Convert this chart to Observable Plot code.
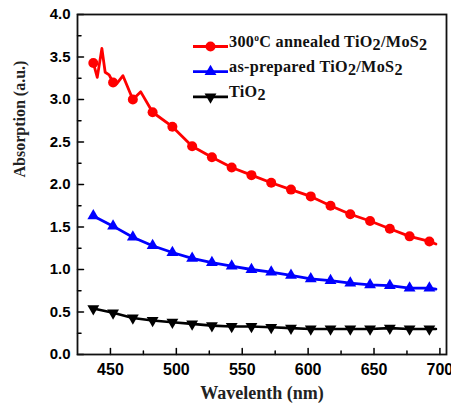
<!DOCTYPE html>
<html>
<head>
<meta charset="utf-8">
<script src="https://cdn.jsdelivr.net/npm/d3@7"></script>
<script src="https://cdn.jsdelivr.net/npm/@observablehq/plot@0.6"></script>
<style>
  html, body { margin: 0; padding: 0; background: #fff; }
</style>
</head>
<body>
<div id="chart"></div>
<script>
// Absorption spectra, wavelength in nm
const wavelength = [437, 452, 467, 482, 497, 512, 527, 542, 557, 572, 587, 602, 617, 632, 647, 662, 677, 692, 697];
const asPrepared = [1.63, 1.51, 1.38, 1.28, 1.20, 1.13, 1.08, 1.04, 1.00, 0.97, 0.93, 0.89, 0.87, 0.84, 0.82, 0.81, 0.78, 0.78, 0.77];
const tio2 = [0.54, 0.49, 0.43, 0.40, 0.38, 0.36, 0.34, 0.33, 0.33, 0.32, 0.31, 0.30, 0.30, 0.30, 0.30, 0.31, 0.30, 0.30, 0.30];

// The annealed sample is noisy at short wavelengths, so it carries extra points
const annealedWavelength = [436, 437, 440, 443.5, 446, 449, 452, 455, 459.5, 467, 473, 482, 497, 512, 527, 542, 557, 572, 587, 602, 617, 632, 647, 662, 677, 692, 697];
const annealed = [3.40, 3.43, 3.26, 3.60, 3.32, 3.29, 3.20, 3.19, 3.28, 3.00, 3.09, 2.85, 2.68, 2.45, 2.32, 2.20, 2.11, 2.02, 1.94, 1.86, 1.75, 1.65, 1.57, 1.48, 1.39, 1.33, 1.30];

// Symbols are drawn every 15 nm
const markerWavelength = [437, 452, 467, 482, 497, 512, 527, 542, 557, 572, 587, 602, 617, 632, 647, 662, 677, 692];

const xMajor = [450, 500, 550, 600, 650, 700];
const xMinor = [475, 525, 575, 625, 675];
const yMajor = [0, 0.5, 1.0, 1.5, 2.0, 2.5, 3.0, 3.5, 4.0];
const yMinor = [0.25, 0.75, 1.25, 1.75, 2.25, 2.75, 3.25, 3.75];

// "_x" marks a subscript, "^x" a superscript
const seriesNames = ["300^oC annealed TiO_2/MoS_2", "as-prepared TiO_2/MoS_2", "TiO_2"];
const seriesColors = ["#ff0000", "#0000ff", "#000000"];

const xTitle = "Wavelenth (nm)";
const yTitle = "Absorption (a.u.)";

const markerSet = new Set(markerWavelength);
const annealedRows = annealedWavelength.map((w, i) => ({w, a: annealed[i]}));
const asPreparedRows = wavelength.map((w, i) => ({w, a: asPrepared[i]}));
const tio2Rows = wavelength.map((w, i) => ({w, a: tio2[i]}));
const onMarker = d => markerSet.has(d.w);

// Downward-pointing triangle, the mirror image of d3.symbolTriangle
const triangleDown = {
  draw(context, size) {
    const y = Math.sqrt(size / (3 * Math.sqrt(3)));
    const s3 = Math.sqrt(3);
    context.moveTo(0, 2 * y);
    context.lineTo(-s3 * y, -y);
    context.lineTo(s3 * y, -y);
    context.closePath();
  }
};

// Plain straight segment used for inward axis ticks
const tickShape = {
  draw(context, l) {
    context.moveTo(0, 0);
    context.lineTo(0, -l);
  }
};

const serif = "'Liberation Serif', 'Times New Roman', serif";
const sans = "'Liberation Sans', Arial, sans-serif";

const plot = Plot.plot({
  width: 451,
  height: 412,
  marginLeft: 77,
  marginRight: 5,
  marginTop: 14,
  marginBottom: 58,
  style: {fontFamily: sans, background: "#fff", overflow: "visible"},
  x: {domain: [425, 705]},
  y: {domain: [0, 4]},
  marks: [
    // inward ticks
    Plot.vector(xMajor, {x: d => d, frameAnchor: "bottom", anchor: "start", length: 6, rotate: 0, shape: tickShape, stroke: "#000", strokeWidth: 1.5, fill: "none"}),
    Plot.vector(xMinor, {x: d => d, frameAnchor: "bottom", anchor: "start", length: 3.5, rotate: 0, shape: tickShape, stroke: "#000", strokeWidth: 1.5, fill: "none"}),
    Plot.vector(yMajor, {y: d => d, frameAnchor: "left", anchor: "start", length: 6, rotate: 90, shape: tickShape, stroke: "#000", strokeWidth: 1.5, fill: "none"}),
    Plot.vector(yMinor, {y: d => d, frameAnchor: "left", anchor: "start", length: 3.5, rotate: 90, shape: tickShape, stroke: "#000", strokeWidth: 1.5, fill: "none"}),
    Plot.axisX({ticks: xMajor, tickSize: 0, tickPadding: 9, fontSize: 16, fontWeight: "bold", label: null, tickFormat: d3.format("d")}),
    Plot.axisY({ticks: yMajor, tickSize: 0, tickPadding: 7, fontSize: 15, fontWeight: "bold", label: null, tickFormat: d3.format(".1f")}),
    Plot.text([xTitle], {frameAnchor: "bottom", dy: 44, text: d => d, fontSize: 18, fontWeight: "bold", fontFamily: serif, fill: "#222"}),
    Plot.text([yTitle], {frameAnchor: "left", dx: -58, dy: -7, rotate: -90, text: d => d, fontSize: 16, fontWeight: "bold", fontFamily: serif, fill: "#222"}),
    // series
    Plot.line(tio2Rows, {x: "w", y: "a", stroke: seriesColors[2], strokeWidth: 2.6}),
    Plot.dot(tio2Rows.filter(onMarker), {x: "w", y: "a", symbol: triangleDown, r: 4.4, fill: seriesColors[2]}),
    Plot.line(asPreparedRows, {x: "w", y: "a", stroke: seriesColors[1], strokeWidth: 2.8}),
    Plot.dot(asPreparedRows.filter(onMarker), {x: "w", y: "a", symbol: "triangle", r: 4.4, fill: seriesColors[1]}),
    Plot.line(annealedRows, {x: "w", y: "a", stroke: seriesColors[0], strokeWidth: 2.8}),
    Plot.dot(annealedRows.filter(onMarker), {x: "w", y: "a", symbol: "circle", r: 5, fill: seriesColors[0]}),
    Plot.frame({stroke: "#111", strokeWidth: 1.8})
  ]
});

// Legend inside the upper right of the frame
const svg = d3.select(plot);
const symbols = [d3.symbol(d3.symbolCircle, Math.PI * 25), d3.symbol(d3.symbolTriangle, Math.PI * 4.4 * 4.4), d3.symbol(triangleDown, Math.PI * 4.4 * 4.4)];
const legend = svg.append("g").attr("transform", "translate(193,46.5)");
seriesNames.forEach((name, i) => {
  const row = legend.append("g").attr("transform", `translate(0,${i * 25.2})`);
  row.append("line").attr("x1", 0).attr("x2", 35).attr("stroke", seriesColors[i]).attr("stroke-width", 2.8);
  row.append("path").attr("d", symbols[i]()).attr("transform", "translate(17.5,0)").attr("fill", seriesColors[i]);
  const text = row.append("text").attr("x", 36).attr("y", 0).attr("dy", "0.35em")
    .attr("text-anchor", "start").attr("letter-spacing", 0.3)
    .attr("font-family", serif).attr("font-weight", "bold").attr("font-size", 16.2).attr("fill", "#111");
  const parts = name.split(/([_^].)/).filter(p => p.length);
  let shift = 0; // current vertical offset in px, undone by the next run
  parts.forEach(p => {
    const span = text.append("tspan");
    let target = 0, content = p;
    if (p[0] === "_") { target = 3.5; content = p[1]; }
    else if (p[0] === "^") { target = -6; content = p[1]; span.attr("font-size", 9.5); }
    span.attr("dy", target - shift).text(content);
    shift = target;
  });
});

document.getElementById("chart").appendChild(plot);
</script>
</body>
</html>
